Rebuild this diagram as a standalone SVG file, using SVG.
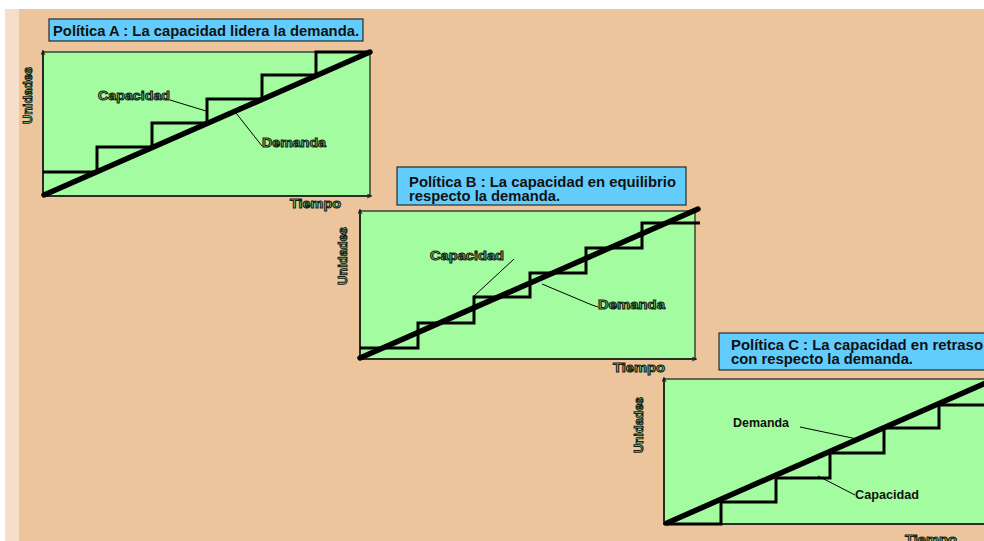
<svg xmlns="http://www.w3.org/2000/svg" width="984" height="541" viewBox="0 0 984 541">
  <style>
    .plot { fill: #a4fca0; stroke: #1a1a1a; stroke-width: 1.2; }
    .axis { fill: none; stroke: #1a1a1a; stroke-width: 1.6; marker-end: url(#tip); }
    .title { fill: #62cdfd; stroke: #2a2a2a; stroke-width: 1.2; }
    .title-text { font-family: "Liberation Sans", Arial, sans-serif; font-weight: bold; font-size: 14px; fill: #111; }
    .cap { fill: none; stroke: #000; stroke-width: 3; stroke-linejoin: miter; }
    .dem { fill: none; stroke: #000; stroke-width: 5.5; stroke-linecap: round; }
    .lead { fill: none; stroke: #000; stroke-width: 1; }
    .outl { font-family: "Liberation Sans", Arial, sans-serif; font-weight: bold; fill: #86d083; stroke: #142014; stroke-width: 1; }
    .solid { font-family: "Liberation Sans", Arial, sans-serif; font-weight: bold; font-size: 12.5px; fill: #111; }
  </style>
  <defs>
    <marker id="tip" viewBox="0 0 6 6" refX="5" refY="3" markerWidth="5" markerHeight="5" orient="auto" markerUnits="userSpaceOnUse">
      <path d="M0,0.5 L6,3 L0,5.5" fill="none" stroke="#1a1a1a" stroke-width="1"/>
    </marker>
  </defs>

  <!-- page background -->
  <rect x="0" y="0" width="984" height="541" fill="#ffffff"/>
  <rect x="5" y="9" width="979" height="532" fill="#f6dec8"/>
  <rect x="19" y="9" width="965" height="532" fill="#edc59d"/>

  <!-- Policy A: capacity leads demand -->
  <g id="policy-a">
    <rect class="title" x="49" y="19" width="314" height="22"/>
    <text class="title-text" x="53" y="36" textLength="306" lengthAdjust="spacingAndGlyphs">Política A : La capacidad lidera la demanda.</text>
    <rect class="plot" x="43" y="52" width="327" height="144"/>
    <path class="axis" d="M43,197 V51"/>
    <path class="axis" d="M42,196 H371"/>
    <path class="cap" d="M43,172 H97 V147 H152 V123 H207 V99 H262 V75 H316 V52 H370"/>
    <line class="dem" x1="44" y1="195" x2="370" y2="52"/>
    <text class="outl" x="98" y="100" font-size="13" textLength="72" lengthAdjust="spacingAndGlyphs">Capacidad</text>
    <text class="outl" x="262" y="147" font-size="13" textLength="64" lengthAdjust="spacingAndGlyphs">Demanda</text>
    <text class="outl" x="290" y="208" font-size="13.5" textLength="51" lengthAdjust="spacingAndGlyphs">Tiempo</text>
    <text class="outl" transform="translate(32,124) rotate(-90)" x="0" y="0" font-size="13" textLength="57" lengthAdjust="spacingAndGlyphs">Unidades</text>
  </g>

  <!-- Policy B: capacity in balance with demand -->
  <g id="policy-b">
    <rect class="title" x="397" y="167" width="289" height="38"/>
    <text class="title-text" x="409" y="187" textLength="267" lengthAdjust="spacingAndGlyphs">Política B : La capacidad en equilibrio</text>
    <text class="title-text" x="409" y="201" textLength="151" lengthAdjust="spacingAndGlyphs">respecto la demanda.</text>
    <rect class="plot" x="360" y="211" width="335" height="148"/>
    <path class="axis" d="M360,360 V210"/>
    <path class="axis" d="M359,359 H696"/>
    <path class="cap" d="M360,348 H418 V323 H474 V297 H530 V273 H586 V248 H642 V223 H700"/>
    <line class="dem" x1="360" y1="358" x2="698" y2="209"/>
    <text class="outl" x="430" y="260" font-size="13" textLength="74" lengthAdjust="spacingAndGlyphs">Capacidad</text>
    <text class="outl" x="598" y="309" font-size="13" textLength="67" lengthAdjust="spacingAndGlyphs">Demanda</text>
    <text class="outl" x="613" y="372" font-size="13.5" textLength="52" lengthAdjust="spacingAndGlyphs">Tiempo</text>
    <text class="outl" transform="translate(347,285) rotate(-90)" x="0" y="0" font-size="13" textLength="58" lengthAdjust="spacingAndGlyphs">Unidades</text>
  </g>

  <!-- Policy C: capacity lags demand -->
  <g id="policy-c">
    <rect class="title" x="719" y="333" width="280" height="37"/>
    <text class="title-text" x="731" y="350" textLength="252" lengthAdjust="spacingAndGlyphs">Política C : La capacidad en retraso</text>
    <text class="title-text" x="731" y="364" textLength="182" lengthAdjust="spacingAndGlyphs">con respecto la demanda.</text>
    <rect class="plot" x="664" y="379" width="340" height="145"/>
    <path class="axis" d="M664,525 V378"/>
    <path class="axis" d="M663,524 H1000"/>
    <path class="cap" d="M664,524 H721 V502 H776 V478 H830 V453 H884 V428 H939 V405 H990"/>
    <line class="dem" x1="667" y1="523" x2="990" y2="381"/>
    <text class="solid" x="733" y="427" textLength="56" lengthAdjust="spacingAndGlyphs">Demanda</text>
    <text class="solid" x="855" y="499" textLength="64" lengthAdjust="spacingAndGlyphs">Capacidad</text>
    <text class="outl" x="905" y="544" font-size="13.5" textLength="52" lengthAdjust="spacingAndGlyphs">Tiempo</text>
    <text class="outl" transform="translate(643,453) rotate(-90)" x="0" y="0" font-size="13" textLength="56" lengthAdjust="spacingAndGlyphs">Unidades</text>
  </g>

  <!-- label leader lines -->
  <g id="connectors">
    <line class="lead" x1="170" y1="100" x2="206" y2="111"/>
    <line class="lead" x1="236" y1="113" x2="262" y2="146"/>
    <line class="lead" x1="514" y1="259" x2="473" y2="297"/>
    <polyline class="lead" points="542,284 592,305 598,307"/>
    <line class="lead" x1="800" y1="427" x2="857" y2="439"/>
    <line class="lead" x1="818" y1="476" x2="855" y2="495"/>
  </g>
</svg>
